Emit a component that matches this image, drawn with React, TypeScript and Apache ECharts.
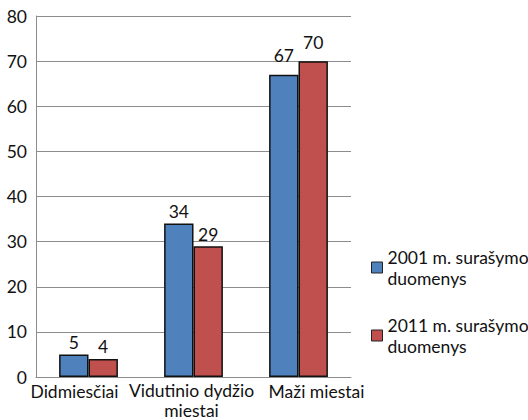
import React, { useEffect, useRef } from "react";
import * as echarts from "echarts";

const categories = ["Didmiesčiai", "Vidutinio dydžio\nmiestai", "Maži miestai"];
const series2001 = [5, 34, 67];
const series2011 = [4, 29, 70];
const seriesNames = ["2001 m. surašymo\nduomenys", "2011 m. surašymo\nduomenys"];
const yTicks = { min: 0, max: 80, interval: 10 };

const FONT = "Lato, sans-serif";
const FS = 17.5;

export default function App() {
  const ref = useRef<HTMLDivElement>(null);
  useEffect(() => {
    if (!ref.current) return;
    const chart = echarts.init(ref.current, null, { renderer: "svg" });
    const labelStyle = {
      show: true,
      position: "top" as const,
      distance: 3,
      color: "#111",
      fontFamily: FONT,
      fontSize: FS,
    };
    // the last category's labels sit a little higher in the original
    const toItems = (vals: number[]) =>
      vals.map((v, i) => ({
        value: v,
        label: { distance: i === vals.length - 1 ? 10 : 3 },
      }));
    const base = { fontFamily: FONT, fontSize: FS, color: "#111", lineHeight: 20 };
    const xRich = {
      c0: { ...base, padding: [3, 28, 0, 0] },
      c1: { ...base, padding: [0, 4, 0, 0] },
      c2: { ...base, padding: [3, 0, 0, 36] },
    };
    chart.setOption({
      animation: false,
      grid: { left: 36, right: 177, top: 16, bottom: 43, containLabel: false },
      legend: {
        orient: "vertical",
        left: 366,
        top: 231,
        itemWidth: 11,
        itemHeight: 11,
        itemGap: 5,
        icon: "rect",
        itemStyle: { borderColor: "#222", borderWidth: 1 },
        textStyle: {
          fontFamily: FONT,
          fontSize: FS,
          color: "#111",
          lineHeight: 21,
          padding: [21, 0, 0, 0],
        },
        data: seriesNames,
      },
      xAxis: {
        type: "category",
        data: categories,
        axisLine: { lineStyle: { color: "#8c8c8c", width: 1 } },
        axisTick: { show: false },
        axisLabel: {
          color: "#111",
          fontFamily: FONT,
          fontSize: FS,
          lineHeight: 20,
          margin: 3,
          interval: 0,
          formatter: (value: string, index: number) =>
            value
              .split("\n")
              .map((l) => `{c${index}|${l}}`)
              .join("\n"),
          rich: xRich,
        },
      },
      yAxis: {
        type: "value",
        min: yTicks.min,
        max: yTicks.max,
        interval: yTicks.interval,
        axisLine: { show: true, lineStyle: { color: "#8c8c8c", width: 1 } },
        axisTick: { show: false },
        splitLine: { lineStyle: { color: "#8c8c8c", width: 1 } },
        axisLabel: {
          color: "#111",
          fontFamily: FONT,
          fontSize: FS,
          margin: 9,
        },
      },
      series: [
        {
          name: seriesNames[0],
          type: "bar",
          data: toItems(series2001),
          barGap: "0%",
          barCategoryGap: "44%",
          itemStyle: { color: "#4F81BD", borderColor: "#111", borderWidth: 1.5 },
          label: labelStyle,
        },
        {
          name: seriesNames[1],
          type: "bar",
          data: toItems(series2011),
          barGap: "0%",
          barCategoryGap: "44%",
          itemStyle: { color: "#C0504D", borderColor: "#111", borderWidth: 1.5 },
          label: labelStyle,
        },
      ],
    });
    return () => chart.dispose();
  }, []);
  return (
    <div
      ref={ref}
      style={{ position: "absolute", left: 0, top: 0, width: 528, height: 420 }}
    />
  );
}
